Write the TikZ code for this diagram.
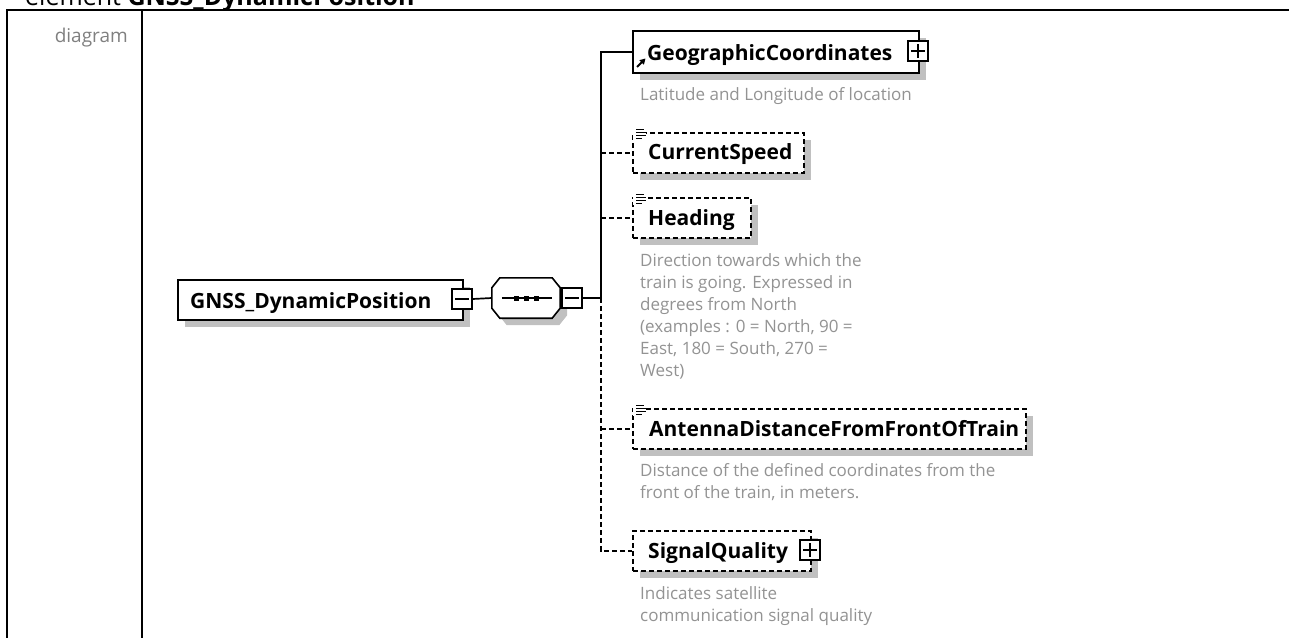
\documentclass[tikz,border=0pt]{standalone}
\usepackage{fontspec}
\setmainfont{Open Sans}
\usetikzlibrary{calc,shadows,arrows.meta}
\definecolor{shadowgray}{HTML}{C0C0C0}
\definecolor{descgray}{HTML}{939393}
\definecolor{labelgray}{HTML}{808080}
\tikzset{
  x=1pt, y=-1pt,
  frame/.style={line width=2pt, black},
  elembox/.style={draw=black, line width=1.6pt, fill=white, inner sep=0pt, anchor=north west,
    general shadow={fill=shadowgray, shadow xshift=7pt, shadow yshift=-7pt}},
  optbox/.style={elembox, dash pattern=on 5pt off 3pt},
  namefont/.style={font=\fontsize{21}{24}\selectfont\bfseries, text=black, inner sep=0pt, anchor=base west},
  descfont/.style={font=\fontsize{17}{22}\selectfont, text=descgray, inner sep=0pt, anchor=north west, align=left},
  pmbox/.style={draw=black, line width=1.3pt, fill=white, minimum width=20pt, minimum height=20pt, inner sep=0pt},
  conn/.style={line width=1.7pt, black},
  optconn/.style={conn, dash pattern=on 5pt off 3pt},
  icon/.style={line width=1pt, black},
}
\begin{document}
\begin{tikzpicture}
\useasboundingbox (0,0) rectangle (1289,637);
\clip (0,0) rectangle (1289,637);
\fill[white] (0,0) rectangle (1289,637);

% title (cut off at top, as in the reference)
\node[anchor=base west, inner sep=0pt, font=\fontsize{25}{28}\selectfont] (title) at (25,5.5) {element \textbf{GNSS\_DynamicPosition}};

% table frame
\draw[frame] (7,660) -- (7,10) -- (1300,10);
\draw[frame] (142,10) -- (142,660);
\node[anchor=base east, inner sep=0pt, font=\fontsize{19}{22}\selectfont, text=labelgray] (diag) at (128,42) {diagram};

% root element
\node[elembox, minimum width=285pt, minimum height=40pt] (gnss) at (177,279) {};
\node[namefont] (gnsstext) at (190,308) {GNSS\_DynamicPosition};
\node[pmbox] (gnssminus) at (462,299) {};
\draw[icon, line width=1.3pt] ($(gnssminus.west)+(4,0)$) -- ($(gnssminus.east)+(-4,0)$);

% sequence compositor
\node[minimum width=68pt, minimum height=40pt, inner sep=0pt] (seq) at (526,298) {};
\fill[shadowgray] ([shift={(15,7)}]seq.north west) -- ([shift={(-1,7)}]seq.north east) -- ([shift={(7,17)}]seq.north east)
  -- ([shift={(7,-3)}]seq.south east) -- ([shift={(-1,7)}]seq.south east) -- ([shift={(15,7)}]seq.south west)
  -- ([shift={(7,-3)}]seq.south west) -- ([shift={(7,17)}]seq.north west) -- cycle;
\draw[line width=1.6pt, fill=white] ([xshift=8pt]seq.north west) -- ([xshift=-8pt]seq.north east) -- ([yshift=-10pt]seq.north east)
  -- ([yshift=10pt]seq.south east) -- ([xshift=-8pt]seq.south east) -- ([xshift=8pt]seq.south west)
  -- ([yshift=10pt]seq.south west) -- ([yshift=-10pt]seq.north west) -- cycle;
\draw[line width=1.3pt] ($(seq.west)+(10,0)$) -- ($(seq.east)+(-8,0)$);
\foreach \dx in {-10,0,10} { \fill ($(seq.center)+(\dx,0)+(-2.5,-2.5)$) rectangle ++(5,5); }
\node[pmbox] (seqminus) at (572,298) {};
\draw[icon, line width=1.3pt] ($(seqminus.west)+(4,0)$) -- ($(seqminus.east)+(-4,0)$);

% trunk coordinate
\coordinate (tmid) at (601,298);

% GeographicCoordinates
\node[elembox, minimum width=286pt, minimum height=42pt] (geo) at (632,30) {};
\node[namefont] (geotext) at (647,60) {GeographicCoordinates};
\node[pmbox] (geoplus) at (918,51) {};
\draw[icon, line width=1.3pt] ($(geoplus.west)+(4,0)$) -- ($(geoplus.east)+(-4,0)$);
\draw[icon, line width=1.3pt] ($(geoplus.north)+(0,4)$) -- ($(geoplus.south)+(0,-4)$);
\draw[line width=1.8pt, -{Triangle[length=5.5pt,width=6pt]}] (637,67) -- (645.5,58.5);
\node[descfont] (geodesc) at (640,87.5) {Latitude and Longitude of location};

% CurrentSpeed
\node[optbox, minimum width=171pt, minimum height=40pt] (speed) at (632,132) {};
\node[namefont] (speedtext) at (648,159) {CurrentSpeed};
\fill[white] (633,128) rectangle (646,140);
\draw[icon] (636,129.5) -- (644,129.5) (636,132.5) -- (646,132.5) (636,135.5) -- (646,135.5) (636,138.5) -- (642,138.5);

% Heading
\node[optbox, minimum width=118pt, minimum height=40pt] (heading) at (632,197) {};
\node[namefont] (headingtext) at (648,225) {Heading};
\fill[white] (633,193) rectangle (646,205);
\draw[icon] (636,194.5) -- (644,194.5) (636,197.5) -- (646,197.5) (636,200.5) -- (646,200.5) (636,203.5) -- (642,203.5);
\node[descfont] (headingdesc) at (640,253.5) {Direction towards which the\\train is going. Expressed in\\degrees from North\\(examples : 0 = North, 90 =\\East, 180 = South, 270 =\\West)};

% AntennaDistanceFromFrontOfTrain
\node[optbox, minimum width=393pt, minimum height=40pt] (antenna) at (632,408) {};
\node[namefont] (antennatext) at (649,436) {AntennaDistanceFromFrontOfTrain};
\fill[white] (633,404) rectangle (646,416);
\draw[icon] (636,405.5) -- (644,405.5) (636,408.5) -- (646,408.5) (636,411.5) -- (646,411.5) (636,414.5) -- (642,414.5);
\node[descfont] (antennadesc) at (640,463.5) {Distance of the defined coordinates from the\\front of the train, in meters.};

% SignalQuality
\node[optbox, minimum width=178pt, minimum height=40pt] (signal) at (632,530) {};
\node[namefont] (signaltext) at (648,558) {SignalQuality};
\node[pmbox] (signalplus) at (810,550) {};
\draw[icon, line width=1.3pt] ($(signalplus.west)+(4,0)$) -- ($(signalplus.east)+(-4,0)$);
\draw[icon, line width=1.3pt] ($(signalplus.north)+(0,4)$) -- ($(signalplus.south)+(0,-4)$);
\node[descfont] (signaldesc) at (640,586.5) {Indicates satellite\\communication signal quality};

% connectors
\draw[conn] (gnssminus.east) -- (seq.west);
\draw[conn] (seqminus.east) -- (tmid);
\draw[conn] (tmid) |- (geo.west);
\draw[optconn] (tmid) |- (signal.west);
\draw[optconn] (speed.west -| tmid) -- (speed.west);
\draw[optconn] (heading.west -| tmid) -- (heading.west);
\draw[optconn] (antenna.west -| tmid) -- (antenna.west);
\end{tikzpicture}
\end{document}
